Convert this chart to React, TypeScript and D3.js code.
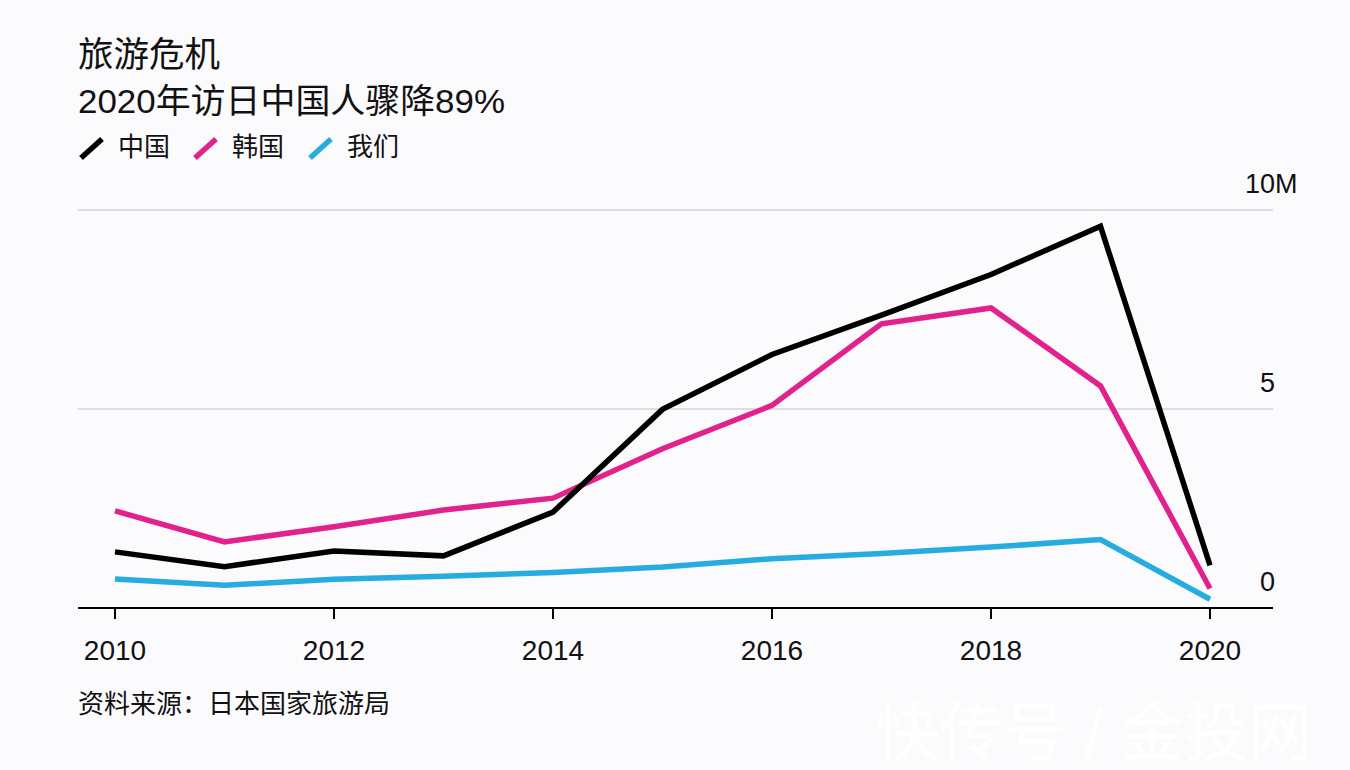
import React from "react";
import * as d3 from "d3";

const years = [2010, 2011, 2012, 2013, 2014, 2015, 2016, 2017, 2018, 2019, 2020];
const china = [1.41, 1.04, 1.43, 1.31, 2.41, 4.99, 6.37, 7.36, 8.38, 9.59, 1.07];
const korea = [2.44, 1.66, 2.04, 2.46, 2.76, 4.0, 5.09, 7.14, 7.54, 5.58, 0.49];
const usa = [0.73, 0.57, 0.72, 0.8, 0.89, 1.03, 1.24, 1.37, 1.53, 1.72, 0.22];
const xTicks = [2010, 2012, 2014, 2016, 2018, 2020];
const yTicks = [0, 5, 10];
const seriesNames = ["中国", "韩国", "我们"];
const seriesColors = ["#000000", "#e0218e", "#27ace0"];

const title = "旅游危机";
const subtitle = "2020年访日中国人骤降89%";
const source = "资料来源：日本国家旅游局";
const watermark = "快传号 / 金投网";

const FONT = "'Liberation Sans', 'Noto Sans CJK SC', sans-serif";

export default function App() {
  const x = d3.scaleLinear().domain([2010, 2020]).range([115, 1210]);
  const y = d3.scaleLinear().domain([0, 10]).range([608, 210]);
  const plotLeft = 78;
  const plotRight = 1273;

  const allSeries = [china, korea, usa];
  const line = d3
    .line<number>()
    .x((_, i) => x(years[i]))
    .y((v) => y(v));

  const order = [2, 1, 0];
  const legendX = [79, 193, 308];

  return (
    <svg
      width={1350}
      height={770}
      style={{ position: "absolute", left: 0, top: 0, background: "#fbfafc" }}
      fontFamily={FONT}
    >
      <rect x={0} y={0} width={1350} height={770} fill="#fbfafc" />
      <text x={78} y={67} fontSize={35} fill="#111" textLength={142} lengthAdjust="spacingAndGlyphs">
        {title}
      </text>
      <text x={78} y={113} fontSize={34} fill="#111" textLength={427} lengthAdjust="spacingAndGlyphs">
        {subtitle}
      </text>

      {seriesNames.map((name, i) => (
        <g key={name}>
          <line
            x1={legendX[i] + 2}
            y1={158}
            x2={legendX[i] + 23}
            y2={139}
            stroke={seriesColors[i]}
            strokeWidth={5.5}
          />
          <text x={legendX[i] + 39} y={156} fontSize={26} fill="#111">
            {name}
          </text>
        </g>
      ))}

      {yTicks
        .filter((t) => t !== 0)
        .map((t) => (
          <line
            key={"g" + t}
            x1={plotLeft}
            x2={plotRight}
            y1={y(t)}
            y2={y(t)}
            stroke="#d3d3d6"
            strokeWidth={1.5}
          />
        ))}

      {yTicks.map((t) => (
        <g key={"yl" + t}>
          <text x={1275} y={y(t) - 17} fontSize={27} textAnchor="end" fill="#111">
            {String(t)}
          </text>
          {t === 10 && (
            <text x={1275} y={y(t) - 17} fontSize={27} fill="#111">
              M
            </text>
          )}
        </g>
      ))}

      {order.map((si) => (
        <path
          key={"s" + si}
          d={line(allSeries[si]) || ""}
          fill="none"
          stroke={seriesColors[si]}
          strokeWidth={5.5}
          strokeLinejoin="miter"
          strokeLinecap="butt"
        />
      ))}

      <line x1={plotLeft} x2={plotRight} y1={y(0)} y2={y(0)} stroke="#000" strokeWidth={2} />
      {xTicks.map((t) => (
        <g key={"xt" + t}>
          <line x1={x(t)} x2={x(t)} y1={y(0)} y2={y(0) + 11} stroke="#000" strokeWidth={2} />
          <text x={x(t)} y={660} fontSize={28} textAnchor="middle" fill="#111">
            {String(t)}
          </text>
        </g>
      ))}

      <text x={78} y={713} fontSize={26} fill="#111">
        {source}
      </text>

      <text x={875} y={755} fontSize={64} fill="#ffffff">
        {watermark}
      </text>
    </svg>
  );
}
